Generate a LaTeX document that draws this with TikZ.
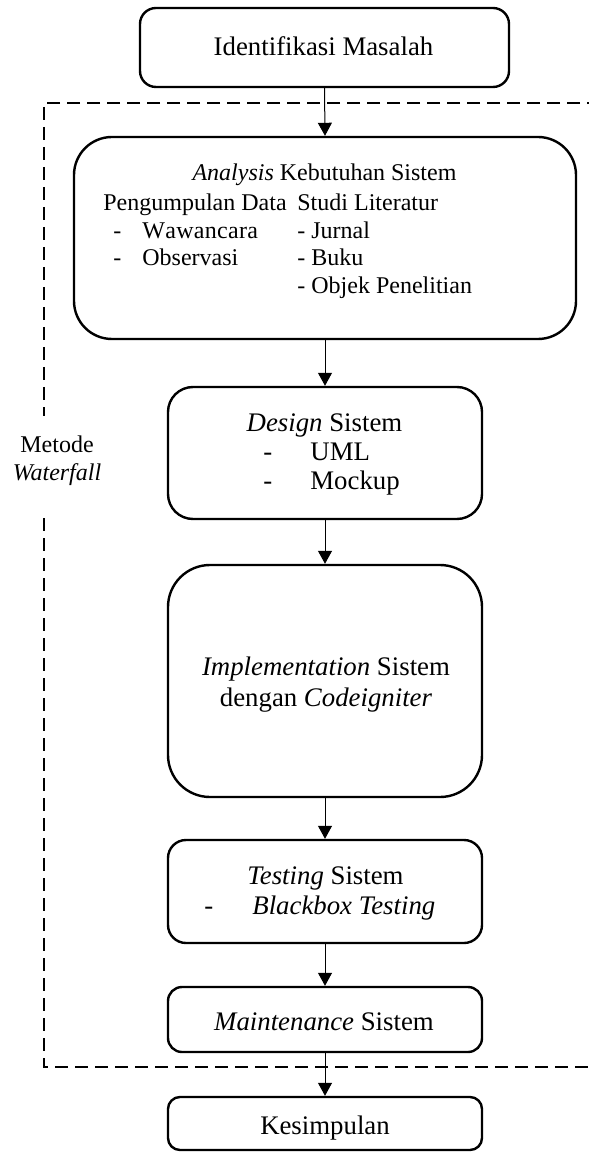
\documentclass[tikz,border=0pt]{standalone}
\usepackage{fontspec}
\setmainfont{Liberation Serif}
\usetikzlibrary{arrows.meta}
\begin{document}
\begin{tikzpicture}[x=0.5pt,y=-0.5pt,
  box/.style={draw, line width=1.2pt, minimum width=157pt, inner sep=0pt},
  txt/.style={inner sep=0pt, font=\fontsize{12}{14}\selectfont},
  btxt/.style={inner sep=0pt, font=\fontsize{13.4}{15.5}\selectfont},
  arr/.style={-{Triangle[width=7pt,length=6.5pt]}, line width=0.5pt},
  frame/.style={dash pattern=on 6.5pt off 3.5pt, line width=1.2pt}]
\useasboundingbox (0,0) rectangle (588,1154);

% dashed frame
\coordinate (f1) at (44,416);
\coordinate (f2) at (44,518);
\draw[frame] (600,103) -- (44,103) -- (f1);
\draw[frame] (f2) -- (44,1067) -- (600,1067);
\node[txt, align=center] (metode) at (57,461) {Metode\\[0pt]\textit{Waterfall}};

% boxes
\node[box, minimum width=184.5pt, minimum height=39.5pt, rounded corners=8pt] (ident) at (324.5,47.5) {};
\node[box, minimum width=251pt, minimum height=101pt, rounded corners=19pt] (anal) at (325,238) {};
\node[box, minimum height=66pt, rounded corners=12.5pt] (design) at (325,453) {};
\node[box, minimum height=116pt, rounded corners=21pt] (impl) at (325,681) {};
\node[box, minimum height=51.5pt, rounded corners=9pt] (test) at (325,891.5) {};
\node[box, minimum height=32.5pt, rounded corners=7pt] (maint) at (325,1019.5) {};
\node[box, minimum height=26.5pt, rounded corners=6pt] (kesim) at (325,1123.5) {};

% texts
\node[btxt] (t1) at (323.5,46) {Identifikasi Masalah};

\node[txt] (a1) at (324.5,175) {\textit{Analysis} Kebutuhan Sistem};
\node[txt, anchor=mid west] (a2) at (103,206) {Pengumpulan Data};
\node[txt, anchor=mid west] (a3) at (297,206) {Studi Literatur};
\node[txt, anchor=mid west] (a4) at (113,234) {-};
\node[txt, anchor=mid west] (a5) at (142,234) {W\kern0.15pt a\kern0.15pt w\kern0.15pt a\kern0.15pt n\kern0.15pt c\kern0.15pt a\kern0.15pt r\kern0.15pt a};
\node[txt, anchor=mid west] (a6) at (113,261) {-};
\node[txt, anchor=mid west] (a7) at (142,261) {Observasi};
\node[txt, anchor=mid west] (a8) at (297,234) {- Jurnal};
\node[txt, anchor=mid west] (a9) at (297,261) {- Buku};
\node[txt, anchor=mid west] (a10) at (297,289) {- Objek Penelitian};

\node[btxt] (d1) at (324.5,425) {\textit{Design} Sistem};
\node[btxt, anchor=mid west] (d2) at (263,456) {-};
\node[btxt, anchor=mid west] (d3) at (310,456) {UML};
\node[btxt, anchor=mid west] (d4) at (263,485) {-};
\node[btxt, anchor=mid west] (d5) at (310,485) {Mockup};

\node[btxt, align=center] (i1) at (326,685) {\textit{Implementation} Sistem\\dengan \textit{Codeigniter}};

\node[btxt] (s1) at (325.5,878) {\textit{Testing} Sistem};
\node[btxt, anchor=mid west] (s2) at (204,910) {-};
\node[btxt, anchor=mid west] (s3) at (252,910) {\textit{Blackbox Testing}};

\node[btxt] (m1) at (324,1022) {\textit{Maintenance} Sistem};
\node[btxt] (k1) at (325,1128) {Kesimpulan};

% arrows
\draw[arr] (ident.south) -- (anal.north);
\draw[arr] (anal.south) -- (design.north);
\draw[arr] (design.south) -- (impl.north);
\draw[arr] (impl.south) -- (test.north);
\draw[arr] (test.south) -- (maint.north);
\draw[arr] (maint.south) -- (kesim.north);
\end{tikzpicture}
\end{document}
